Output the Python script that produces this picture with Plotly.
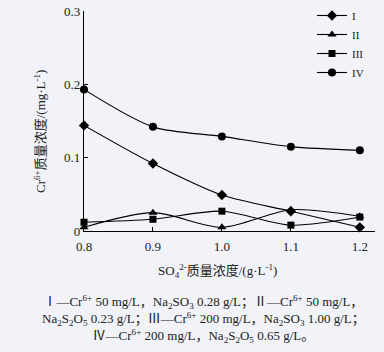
import plotly.graph_objects as go

x_vals = [0.8, 0.9, 1.0, 1.1, 1.2]
s1 = [0.144, 0.092, 0.049, 0.027, 0.005]
s2 = [0.005, 0.025, 0.005, 0.029, 0.020]
s3 = [0.012, 0.016, 0.027, 0.008, 0.019]
s4 = [0.193, 0.142, 0.129, 0.115, 0.110]
names = ["I", "II", "III", "IV"]
symbols = ["diamond", "triangle-up", "square", "circle"]
x_ticks = [0.8, 0.9, 1.0, 1.1, 1.2]
x_ticklabels = ["0.8", "0.9", "1.0", "1.1", "1.2"]
y_ticks = [0, 0.1, 0.2, 0.3]
y_ticklabels = ["0", "0.1", "0.2", "0.3"]

FONT = "Liberation Serif, Times New Roman, Noto Sans CJK SC, serif"
bg = "#f1f3f8"
L, R, T, B = 84, 9, 11, 121
PW, PH = 384 - L - R, 352 - T - B

def px_x(p):
    return (p - L) / PW

def px_y(p):
    return (352 - B - p) / PH

fig = go.Figure()
for name, ys, sym in zip(names, [s1, s2, s3, s4], symbols):
    fig.add_trace(go.Scatter(
        x=x_vals, y=ys, name=name, mode="lines+markers",
        line=dict(color="black", width=1.1, shape="spline", smoothing=0.8),
        marker=dict(symbol=sym, size=8 if sym != "square" else 7, color="black"),
        cliponaxis=False,
    ))

fig.update_layout(
    width=384, height=352,
    margin=dict(l=L, r=R, t=T, b=B, autoexpand=False),
    paper_bgcolor=bg, plot_bgcolor=bg,
    font=dict(family=FONT, size=12, color="#222"),
    showlegend=True,
    legend=dict(x=px_x(312), y=px_y(1), xanchor="left", yanchor="top",
                bgcolor="rgba(0,0,0,0)", font=dict(size=11, family=FONT),
                itemwidth=30, tracegroupgap=0),
    xaxis=dict(range=[0.8, 1.222], tickvals=x_ticks, ticktext=x_ticklabels,
               showline=True, linecolor="black", linewidth=1.2,
               ticks="inside", ticklen=4, tickcolor="black",
               showgrid=False, zeroline=False,
               tickfont=dict(size=13, family=FONT), ticklabelstandoff=3),
    yaxis=dict(range=[0, 0.3], tickvals=y_ticks, ticktext=y_ticklabels,
               showline=True, linecolor="black", linewidth=1.2,
               ticks="inside", ticklen=4, tickcolor="black",
               showgrid=False, zeroline=False,
               tickfont=dict(size=13, family=FONT)),
)

fig.add_annotation(text="Cr<sup>6+</sup>质量浓度/(mg·L<sup>-1</sup>)", xref="paper", yref="paper",
                   x=px_x(40), y=px_y(132), xanchor="center", yanchor="middle",
                   textangle=-90, showarrow=False,
                   font=dict(size=13, family=FONT, color="#222"))
fig.add_annotation(text="SO<sub>4</sub><sup>2-</sup>质量浓度/(g·L<sup>-1</sup>)", xref="paper", yref="paper",
                   x=px_x(217), y=px_y(271), xanchor="center", yanchor="middle",
                   showarrow=False, font=dict(size=13, family=FONT, color="#222"))

caption = ("Ⅰ—Cr<sup>6+</sup> 50 mg/L，Na<sub>2</sub>SO<sub>3</sub> 0.28 g/L；Ⅱ—Cr<sup>6+</sup> 50 mg/L，<br>"
           "Na<sub>2</sub>S<sub>2</sub>O<sub>5</sub> 0.23 g/L；Ⅲ—Cr<sup>6+</sup> 200 mg/L，Na<sub>2</sub>SO<sub>3</sub> 1.00 g/L；<br>"
           "Ⅳ—Cr<sup>6+</sup> 200 mg/L，Na<sub>2</sub>S<sub>2</sub>O<sub>5</sub> 0.65 g/L。")
fig.add_annotation(text=caption, xref="paper", yref="paper",
                   x=px_x(203), y=px_y(291),
                   xanchor="center", yanchor="top", showarrow=False,
                   align="center", font=dict(size=13, family=FONT, color="#222"))

fig.write_html("out.html")
